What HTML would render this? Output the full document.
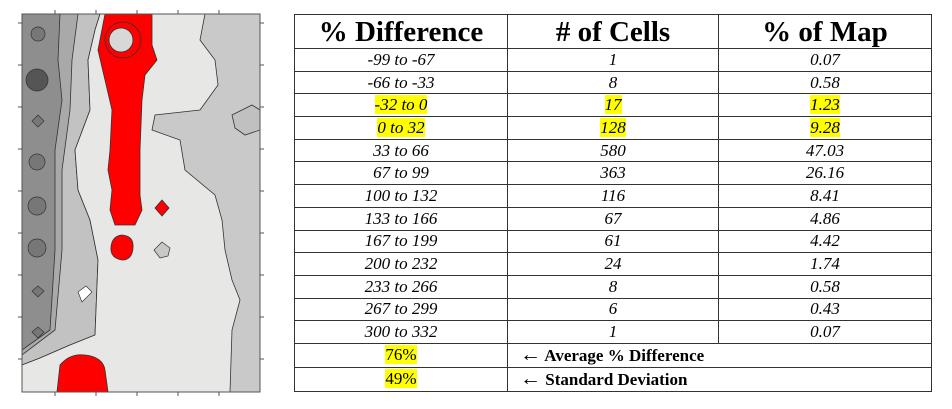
<!DOCTYPE html>
<html><head><style>
body{margin:0;background:#fff;width:952px;height:409px;overflow:hidden;position:relative;font-family:"Liberation Serif",serif}
table{position:absolute;left:294px;top:14px;border-collapse:collapse;width:638px}
td{border:1.5px solid #333;text-align:center;padding:0;font-style:italic;font-size:17px;height:21.7px;line-height:20px}
tr.h td{font-style:normal;font-weight:bold;font-size:29px;height:33px;line-height:30px}
tr.f td{height:23px;font-style:normal;font-size:17px}
td.l{text-align:left;padding-left:12px;font-weight:bold}
td.l span{font-weight:normal;font-size:21px}
.y{background:#ffff00}
</style></head><body>
<svg width="280" height="409" style="position:absolute;left:0;top:0">
<rect x="22" y="14" width="238" height="378" fill="#c9c9c9"/>
<path d="M22 14 H100 L95 30 L88 60 L90 110 L75 150 L78 190 L90 220 L98 260 L95 335 L70 345 L40 358 L22 365Z" fill="#c2c2c2" stroke="#333" stroke-width="0.8"/>
<path d="M22 14 H78 L72 60 L70 110 L62 170 L62 250 L55 330 L22 355Z" fill="#a9a9a9" stroke="#333" stroke-width="0.8"/>
<path d="M22 14 H60 L58 60 L62 100 L55 150 L55 250 L50 330 L22 350Z" fill="#8e8e8e" stroke="#333" stroke-width="0.8"/>
<path d="M100 14 H205 L200 40 L215 60 L218 85 L200 110 L155 115 L152 130 L180 140 L185 170 L215 195 L222 220 L225 250 L232 280 L240 300 L232 330 L230 392 H22 V365 L40 358 L70 345 L95 335 L98 260 L90 220 L78 190 L75 150 L90 110 L88 60 L95 30Z" fill="#e7e7e5" stroke="#333" stroke-width="0.8"/>
<path d="M232 115 L252 105 L260 110 V130 L245 135 L235 128Z" fill="#c0c0c0" stroke="#333" stroke-width="0.8"/>
<g fill="#777" stroke="#333" stroke-width="0.7">
<circle cx="38" cy="34" r="7"/><circle cx="37" cy="80" r="11" fill="#555"/><path d="M38 115 l6 6 -6 6 -6 -6z"/>
<circle cx="37" cy="162" r="8"/><circle cx="37" cy="206" r="9"/><circle cx="37" cy="248" r="9"/>
<path d="M38 286 l6 5 -6 6 -6 -6z"/><path d="M38 327 l6 5 -6 6 -6 -6z"/></g>
<path d="M105 14 H152 L152 45 L157 60 L145 75 L142 100 L140 150 L140 195 L142 210 L135 225 L115 225 L110 210 L112 190 L108 170 L110 150 L112 110 L105 80 L98 50Z" fill="#f00" stroke="#333" stroke-width="0.8"/>
<circle cx="123" cy="40" r="18" fill="none" stroke="#333" stroke-width="0.8"/>
<circle cx="121" cy="40" r="12" fill="#d8d8d8" stroke="#333" stroke-width="0.8"/>
<path d="M122 235 Q134 236 133 248 Q132 260 122 260 Q110 258 111 247 Q112 236 122 235Z" fill="#f00" stroke="#333" stroke-width="0.8"/>
<path d="M162 200 l7 8 -7 8 -7 -8z" fill="#f00" stroke="#333" stroke-width="0.8"/>
<path d="M162 242 l8 6 -2 8 -8 2 -6 -8z" fill="#c8c8c8" stroke="#333" stroke-width="0.7"/>
<path d="M57 392 L60 365 Q70 353 85 355 Q103 357 105 370 L108 392Z" fill="#f00" stroke="#333" stroke-width="0.8"/>
<path d="M78 292 l8 -6 6 6 -10 10z" fill="#fff" stroke="#333" stroke-width="0.7"/>
<rect x="22" y="14" width="238" height="378" fill="none" stroke="#555" stroke-width="1"/>
<g stroke="#555" stroke-width="1">
<path d="M55 14v-4M96 14v-4M137 14v-4M178 14v-4M219 14v-4M55 392v4M96 392v4M137 392v4M178 392v4M219 392v4"/>
<path d="M22 23h-4M22 65h-4M22 107h-4M22 149h-4M22 191h-4M22 233h-4M22 275h-4M22 317h-4M22 359h-4M260 23h4M260 65h4M260 107h4M260 149h4M260 191h4M260 233h4M260 275h4M260 317h4M260 359h4"/></g>
</svg>
<table>
<tr class="h"><td style="width:212px">% Difference</td><td style="width:210px">#&nbsp;of Cells</td><td>% of Map</td></tr>
<tr><td>-99 to -67</td><td>1</td><td>0.07</td></tr>
<tr><td>-66 to -33</td><td>8</td><td>0.58</td></tr>
<tr><td><span class="y">-32 to 0</span></td><td><span class="y">17</span></td><td><span class="y">1.23</span></td></tr>
<tr><td><span class="y">0 to 32</span></td><td><span class="y">128</span></td><td><span class="y">9.28</span></td></tr>
<tr><td>33 to 66</td><td>580</td><td>47.03</td></tr>
<tr><td>67 to 99</td><td>363</td><td>26.16</td></tr>
<tr><td>100 to 132</td><td>116</td><td>8.41</td></tr>
<tr><td>133 to 166</td><td>67</td><td>4.86</td></tr>
<tr><td>167 to 199</td><td>61</td><td>4.42</td></tr>
<tr><td>200 to 232</td><td>24</td><td>1.74</td></tr>
<tr><td>233 to 266</td><td>8</td><td>0.58</td></tr>
<tr><td>267 to 299</td><td>6</td><td>0.43</td></tr>
<tr><td>300 to 332</td><td>1</td><td>0.07</td></tr>
<tr class="f"><td><span class="y">76%</span></td><td class="l" colspan="2"><span>&larr;</span> Average % Difference</td></tr>
<tr class="f"><td><span class="y">49%</span></td><td class="l" colspan="2"><span>&larr;</span> Standard Deviation</td></tr>
</table>
</body></html>
